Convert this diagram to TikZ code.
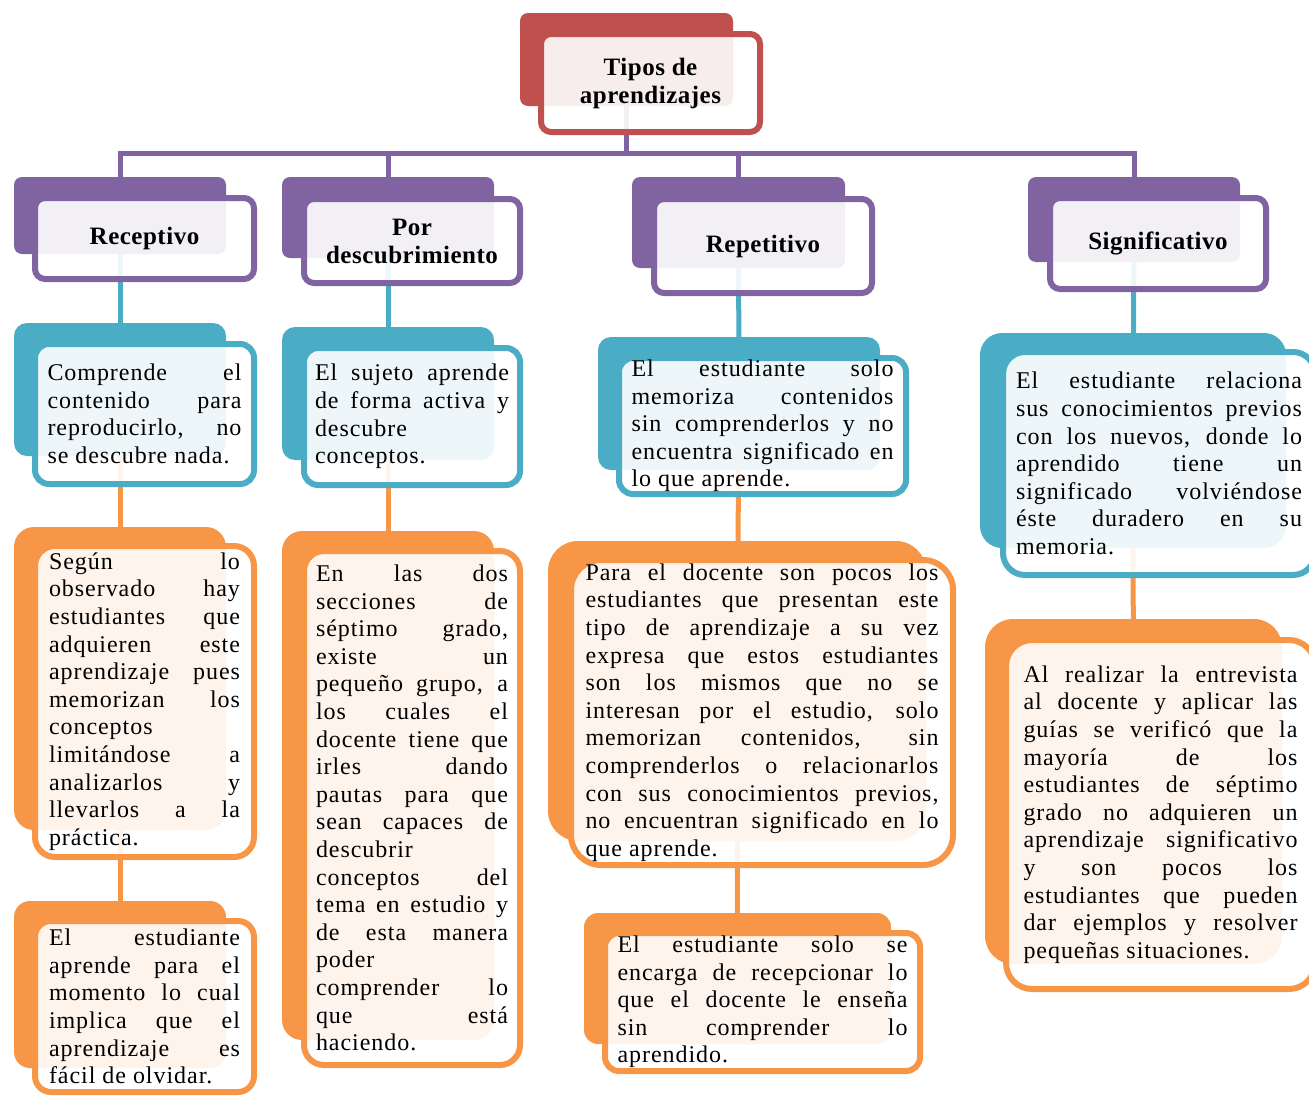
\documentclass[tikz,border=0pt]{standalone}
\usepackage{fontspec}
\setmainfont{Liberation Serif}[LetterSpace=4]
\definecolor{rojo}{HTML}{C0504D}
\definecolor{morado}{HTML}{8064A2}
\definecolor{celeste}{HTML}{4BACC6}
\definecolor{naranja}{HTML}{F79646}
\pgfdeclarelayer{fondo}
\pgfsetlayers{fondo,main}
\hyphenpenalty=10000 \exhyphenpenalty=10000
\tolerance=10000 \hbadness=10000

\begin{document}
\begin{tikzpicture}[x=1pt, y=-1pt,
    atras/.style={fill=#1, rounded corners=8pt, inner sep=0pt},
    frente/.style={draw=#1, line width=6pt, fill=white, fill opacity=0.9, text opacity=1,
        rounded corners=10pt, inner sep=0pt},
    titulo/.style={font=\fontsize{25}{28}\selectfont\addfontfeatures{LetterSpace=2}\bfseries, align=center},
    texto/.style={font=\fontsize{24}{27.6}\selectfont, align=justify},
    enlace/.style={draw=#1, line width=5pt}]
    \useasboundingbox (0,0) rectangle (1309,1095);

    % raiz
    \node[atras=rojo, minimum width=213pt, minimum height=93pt] (raiz-b) at (626.5,59.5) {};
    \node[frente=rojo, titulo, minimum width=219pt, minimum height=98pt] (raiz) at (650.5,83) {Tipos de\\aprendizajes};

    % tipos
    \node[atras=morado, minimum width=212pt, minimum height=77pt] (rec-b) at (120,215.5) {};
    \node[frente=morado, titulo, minimum width=219pt, minimum height=81pt] (rec) at (144.5,238.5) {Receptivo};
    \node[atras=morado, minimum width=212pt, minimum height=81pt] (desc-b) at (388,217.5) {};
    \node[frente=morado, titulo, minimum width=216pt, minimum height=84pt] (desc) at (412,241) {Por\\descubrimiento};
    \node[atras=morado, minimum width=213pt, minimum height=91pt] (rep-b) at (738.5,222.5) {};
    \node[frente=morado, titulo, minimum width=218pt, minimum height=94pt] (rep) at (763,246) {Repetitivo};
    \node[atras=morado, minimum width=212pt, minimum height=85pt] (sig-b) at (1134,219.5) {};
    \node[frente=morado, titulo, minimum width=216pt, minimum height=91pt] (sig) at (1158,243.5) {Significativo};

    % definiciones
    \node[atras=celeste, rounded corners=13pt, minimum width=212pt, minimum height=133pt] (comp-b) at (120,389.5) {};
    \node[frente=celeste, texto, rounded corners=14pt, text width=194pt, minimum width=219pt, minimum height=140pt] (comp) at (144.5,414)
        {Comprende el\linebreak contenido para\linebreak reproducirlo, no\linebreak se descubre nada.};
    \node[atras=celeste, rounded corners=13pt, minimum width=212pt, minimum height=133pt] (suj-b) at (388,393.5) {};
    \node[frente=celeste, texto, rounded corners=14pt, text width=194pt, minimum width=216pt, minimum height=137pt] (suj) at (412,416.5)
        {El sujeto aprende\linebreak de forma activa y\linebreak descubre\linebreak conceptos.};
    \node[atras=celeste, rounded corners=13pt, minimum width=282pt, minimum height=133pt] (memo-b) at (739,403.5) {};
    \node[frente=celeste, texto, rounded corners=14pt, text width=262pt, minimum width=287pt, minimum height=136pt] (memo) at (762.5,426)
        {El estudiante solo\linebreak memoriza contenidos\linebreak sin comprenderlos y no\linebreak encuentra significado en\linebreak lo que aprende.};
    \node[atras=celeste, rounded corners=22pt, minimum width=306pt, minimum height=215pt] (rel-b) at (1133,440.5) {};
    \node[frente=celeste, texto, rounded corners=22pt, text width=286pt, minimum width=312pt, minimum height=223pt] (rel) at (1159,463.5)
        {El estudiante relaciona\linebreak sus conocimientos previos\linebreak con los nuevos, donde lo\linebreak aprendido tiene un\linebreak significado volviéndose\linebreak éste duradero en su\linebreak memoria.};

    % observaciones
    \node[atras=naranja, rounded corners=20pt, minimum width=212pt, minimum height=303pt] (seg-b) at (120,678.5) {};
    \node[frente=naranja, texto, rounded corners=20pt, text width=191pt, minimum width=219pt, minimum height=311pt] (seg) at (144.5,701.5)
        {Según lo\linebreak observado hay\linebreak estudiantes que\linebreak adquieren este\linebreak aprendizaje pues\linebreak memorizan los\linebreak conceptos\linebreak limitándose a\linebreak analizarlos y\linebreak llevarlos a la\linebreak práctica.};
    \node[atras=naranja, rounded corners=20pt, minimum width=212pt, minimum height=509pt] (dos-b) at (388,785.5) {};
    \node[frente=naranja, texto, rounded corners=20pt, text width=192pt, minimum width=216pt, minimum height=514pt] (dos) at (412,808)
        {En las dos\linebreak secciones de\linebreak séptimo grado,\linebreak existe un\linebreak pequeño grupo, a\linebreak los cuales el\linebreak docente tiene que\linebreak irles dando\linebreak pautas para que\linebreak sean capaces de\linebreak descubrir\linebreak conceptos del\linebreak tema en estudio y\linebreak de esta manera\linebreak poder\linebreak comprender lo\linebreak que está\linebreak haciendo.};
    \node[atras=naranja, rounded corners=30pt, minimum width=378pt, minimum height=300pt] (para-b) at (737,691) {};
    \node[frente=naranja, texto, rounded corners=30pt, text width=353pt, minimum width=382pt, minimum height=305pt] (para) at (762,712.5)
        {Para el docente son pocos los\linebreak estudiantes que presentan este\linebreak tipo de aprendizaje a su vez\linebreak expresa que estos estudiantes\linebreak son los mismos que no se\linebreak interesan por el estudio, solo\linebreak memorizan contenidos, sin\linebreak comprenderlos o relacionarlos\linebreak con sus conocimientos previos,\linebreak no encuentran significado en lo\linebreak que aprende.};
    \node[atras=naranja, rounded corners=28pt, minimum width=297pt, minimum height=345pt] (real-b) at (1133.5,791.5) {};
    \node[frente=naranja, texto, rounded corners=26pt, text width=274pt, minimum width=309pt, minimum height=349pt] (real) at (1160.5,814.5)
        {Al realizar la entrevista\linebreak al docente y aplicar las\linebreak guías se verificó que la\linebreak mayoría de los\linebreak estudiantes de séptimo\linebreak grado no adquieren un\linebreak aprendizaje significativo\linebreak y son pocos los\linebreak estudiantes que pueden\linebreak dar ejemplos y resolver\linebreak pequeñas situaciones.};

    % consecuencias
    \node[atras=naranja, rounded corners=16pt, minimum width=212pt, minimum height=167pt] (apr-b) at (120,984.5) {};
    \node[frente=naranja, texto, rounded corners=16pt, text width=191pt, minimum width=219pt, minimum height=171pt] (apr) at (144.5,1006.5)
        {El estudiante\linebreak aprende para el\linebreak momento lo cual\linebreak implica que el\linebreak aprendizaje es\linebreak fácil de olvidar.};
    \node[atras=naranja, rounded corners=14pt, minimum width=307pt, minimum height=131pt] (enc-b) at (737.5,978.5) {};
    \node[frente=naranja, texto, rounded corners=14pt, text width=290pt, minimum width=315pt, minimum height=138pt] (enc) at (762.5,1002)
        {El estudiante solo se\linebreak encarga de recepcionar lo\linebreak que el docente le enseña\linebreak sin comprender lo\linebreak aprendido.};

    % conectores
    \begin{pgfonlayer}{fondo}
        \coordinate (bus) at (626.5,153);
        \draw[enlace=morado] (raiz-b) -- (bus);
        \draw[enlace=morado] (rec-b) |- (bus) -| (sig-b);
        \draw[enlace=morado] (bus) -| (desc-b);
        \draw[enlace=morado] (bus) -| (rep-b);
        \draw[enlace=celeste] (rec-b) -- (comp-b);
        \draw[enlace=celeste] (desc-b) -- (suj-b);
        \draw[enlace=celeste] (rep-b) -- (memo-b);
        \draw[enlace=celeste] (sig-b) -- (rel-b);
        \draw[enlace=naranja] (comp-b) -- (seg-b);
        \draw[enlace=naranja] (suj-b) -- (dos-b);
        \draw[enlace=naranja] (memo-b) -- (para-b);
        \draw[enlace=naranja] (rel-b) -- (real-b);
        \draw[enlace=naranja] (seg-b) -- (apr-b);
        \draw[enlace=naranja] (para-b) -- (enc-b);
    \end{pgfonlayer}
\end{tikzpicture}
\end{document}
